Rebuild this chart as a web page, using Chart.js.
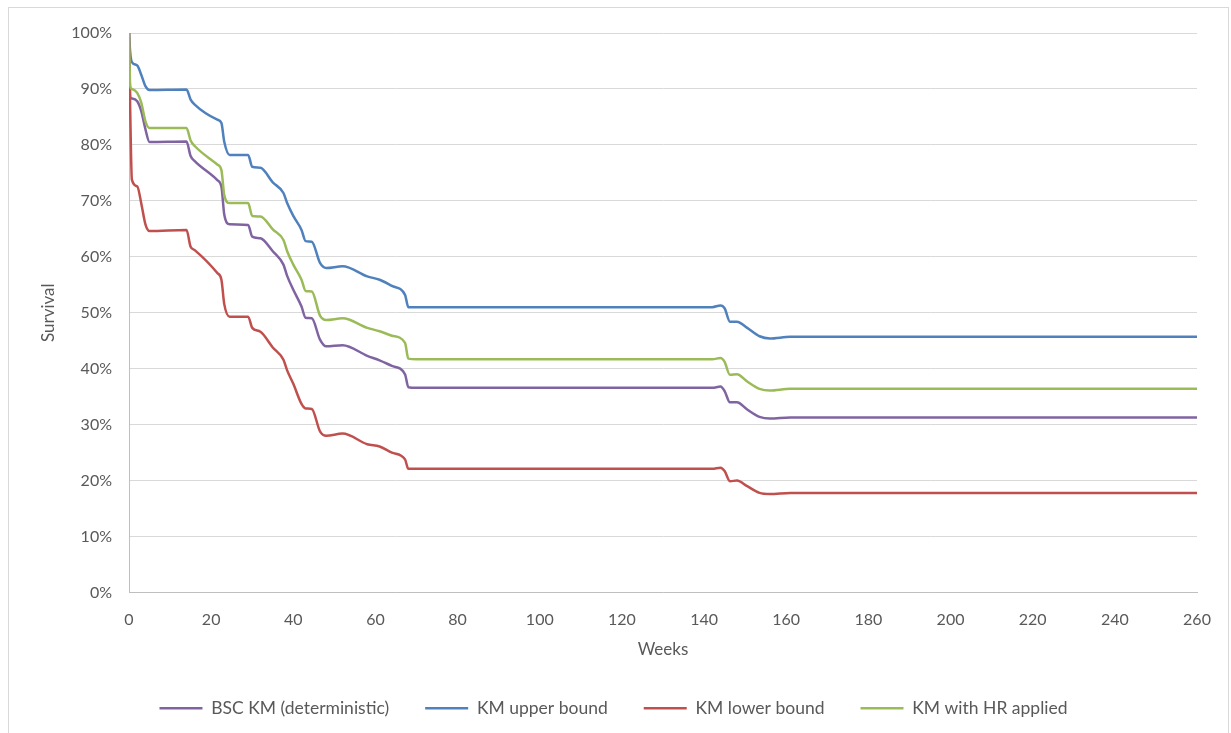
<!DOCTYPE html>
<html>
<head>
<meta charset="utf-8">
<script src="https://cdn.jsdelivr.net/npm/chart.js@4.4.1/dist/chart.umd.min.js"></script>
<style>
  html, body { margin: 0; padding: 0; background: #fff; overflow: hidden; }
  #wrap { position: relative; width: 1231px; height: 733px; }
  #frame { position: absolute; left: 8px; top: 7px; width: 1219px; height: 740px;
           border: 1px solid #d9d9d9; pointer-events: none; }
</style>
</head>
<body>
<div id="wrap">
  <canvas id="survChart" width="1231" height="733"></canvas>
  <div id="frame"></div>
</div>
<script>
const weeks = [0, 0.3, 0.7, 2, 3, 4, 5, 14, 15, 16, 21.5, 22.5, 23.2, 24.5, 29, 30, 32, 35,
  37.6, 38.5, 40, 42, 43, 44.5, 46.5, 48, 52, 58, 61, 64, 67.2, 68, 70,
  142, 144, 145, 146.3, 148, 150.5, 153.5, 156, 161, 260];

// survival (%)
const bscKM = [100, 88.6, 88.3, 87.8, 86.0, 82.8, 80.5, 80.6, 78.0, 77.1, 73.7, 72.5, 67.5, 65.8, 65.7, 63.6, 63.3, 61.0,
  58.6, 56.6, 54.1, 51.1, 49.1, 49.0, 45.2, 44.0, 44.2, 42.3, 41.5, 40.5, 39.0, 36.7, 36.6,
  36.6, 36.8, 36.0, 34.0, 34.0, 32.7, 31.4, 31.1, 31.3, 31.3];
const upperKM = [100, 96.5, 94.8, 94.2, 92.5, 90.5, 89.8, 89.9, 88.1, 87.2, 84.5, 83.9, 80.5, 78.2, 78.2, 76.1, 75.9, 73.3,
  71.4, 69.6, 67.3, 64.8, 62.8, 62.7, 58.9, 58.0, 58.3, 56.5, 55.9, 54.8, 53.2, 51.0, 51.0,
  51.0, 51.3, 50.8, 48.4, 48.4, 47.3, 45.8, 45.4, 45.7, 45.7];
const lowerKM = [100, 86.0, 73.8, 72.6, 69.5, 65.8, 64.6, 64.8, 61.8, 61.2, 57.1, 55.9, 51.5, 49.3, 49.3, 47.3, 46.6, 43.8,
  41.6, 39.7, 37.3, 33.7, 32.9, 32.8, 28.8, 28.0, 28.4, 26.5, 26.1, 25.0, 23.8, 22.1, 22.1,
  22.1, 22.3, 21.7, 19.9, 20.0, 19.0, 17.8, 17.6, 17.8, 17.8];
const hrKM = [100, 90.5, 90.0, 89.3, 87.5, 84.2, 83.0, 83.0, 80.8, 79.8, 76.5, 75.5, 71.0, 69.6, 69.6, 67.3, 67.2, 64.9,
  63.0, 61.0, 58.6, 55.9, 53.9, 53.8, 49.5, 48.7, 49.0, 47.3, 46.7, 45.9, 44.6, 41.8, 41.7,
  41.7, 41.9, 41.2, 38.9, 39.0, 37.7, 36.4, 36.1, 36.4, 36.4];

const seriesNames = ['BSC KM (deterministic)', 'KM upper bound', 'KM lower bound', 'KM with HR applied'];
const seriesValues = [bscKM, upperKM, lowerKM, hrKM];
const seriesColors = ['#8064A2', '#4F81BD', '#C0504D', '#9BBB59'];
const drawOrder = [3, 2, 1, 0]; // green on top like the original

const textColor = '#595959';
const fontFamily = 'Lato, "Open Sans", sans-serif';

const datasets = seriesNames.map((name, i) => ({
    label: name,
    data: weeks.map((w, j) => ({ x: w, y: seriesValues[i][j] })),
    borderColor: seriesColors[i],
    backgroundColor: seriesColors[i],
    borderWidth: 2.5,
    pointRadius: 0,
    cubicInterpolationMode: 'monotone',
    order: drawOrder[i],
}));

const ctx = document.getElementById('survChart').getContext('2d');
new Chart(ctx, {
    type: 'line',
    data: { datasets },
    options: {
        responsive: false,
        animation: false,
        layout: { padding: { left: 30, top: 33, right: 34, bottom: 6 } },
        plugins: {
            tooltip: { enabled: false },
            legend: {
                position: 'bottom',
                labels: {
                    usePointStyle: true,
                    pointStyle: 'line',
                    pointStyleWidth: 43,
                    padding: 36,
                    color: textColor,
                    font: { family: fontFamily, size: 17.5 },
                    sort: (a, b) => a.datasetIndex - b.datasetIndex,
                },
            },
        },
        scales: {
            x: {
                type: 'linear',
                min: 0,
                max: 260,
                grid: { display: false, drawTicks: false },
                border: { display: true, color: '#bfbfbf', width: 1 },
                ticks: { stepSize: 20, padding: 18, color: textColor, font: { family: fontFamily, size: 16 } },
                title: { display: true, text: 'Weeks', color: textColor, padding: { top: 0, bottom: 4 },
                         font: { family: fontFamily, size: 17 } },
                afterFit: (s) => { s.height = 71; },
            },
            y: {
                min: 0,
                max: 100,
                grid: { color: '#d9d9d9', lineWidth: 1, drawTicks: false },
                border: { display: true, color: '#bfbfbf', width: 1 },
                ticks: { stepSize: 10, padding: 17, color: textColor, font: { family: fontFamily, size: 16 },
                         callback: (v) => v + '%' },
                title: { display: true, text: 'Survival', color: textColor, padding: { top: 8, bottom: 0 },
                         font: { family: fontFamily, size: 17 } },
                afterFit: (s) => { s.width = 99; },
            },
        },
    },
});
</script>
</body>
</html>
